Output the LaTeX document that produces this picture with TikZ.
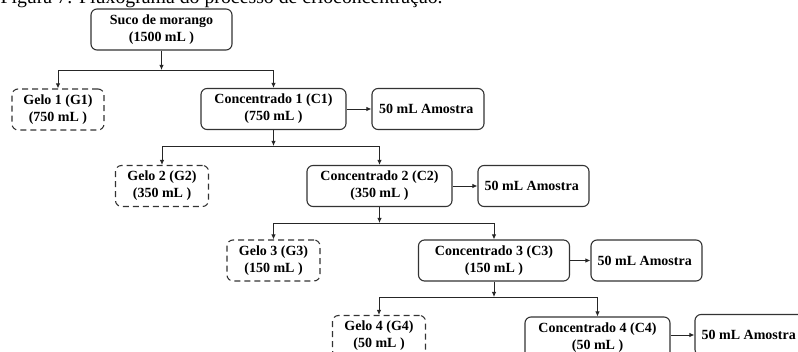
\documentclass[tikz,border=0pt]{standalone}
\usepackage{fontspec}
\setmainfont{Liberation Serif}
\usetikzlibrary{arrows.meta,positioning}

\begin{document}
\begin{tikzpicture}[x=1pt, y=-1pt,
    every node/.style={
        rectangle,
        rounded corners=6pt,
        draw=black!80,
        line width=1.1pt,
        align=center,
        inner sep=2pt,
        minimum height=41pt,
        font=\fontsize{14}{17}\selectfont\bfseries
    },
    gelo/.style={dash pattern=on 6pt off 4pt, minimum width=93pt},
    concentrado/.style={minimum width=145pt},
    amostra/.style={minimum width=111pt},
    seta/.style={->, draw=black!85, line width=0.9pt},
    >={Latex[length=5pt, width=4.5pt]}
]
    \useasboundingbox (0,0) rectangle (798,352);
    \clip (0,0) rectangle (798,352);

    \node (legenda) [draw=none, rounded corners=0pt, minimum height=0pt, inner sep=0pt,
        anchor=base west, font=\fontsize{19.8}{24}\selectfont, shift={(0,4)}]
    {
        Figura 7: Fluxograma do processo de crioconcentração.
    };

    \node (suco_de_morango) [minimum width=141pt, shift={(161.5, 29.5)}]
    {
        Suco de morango\\(1500 mL )
    };

    \node (gelo_1) [gelo, minimum width=92pt, shift={(58, 109.5)}]
    {
        Gelo 1 (G1)\\(750 mL )
    };
    \node (concentrado_1) [concentrado, shift={(273.5, 109)}]
    {
        Concentrado 1 (C1)\\(750 mL )
    };
    \node (amostra_1) [amostra, minimum width=112pt, shift={(428, 109)}]
    {
        50 mL Amostra
    };

    \node (gelo_2) [gelo, shift={(162, 186)}]
    {
        Gelo 2 (G2)\\(350 mL )
    };
    \node (concentrado_2) [concentrado, shift={(379.5, 186)}]
    {
        Concentrado 2 (C2)\\(350 mL )
    };
    \node (amostra_2) [amostra, shift={(533.5, 186)}]
    {
        50 mL Amostra
    };

    \node (gelo_3) [gelo, shift={(273.5, 260.5)}]
    {
        Gelo 3 (G3)\\(150 mL )
    };
    \node (concentrado_3) [concentrado, minimum width=151pt, shift={(494, 260.5)}]
    {
        Concentrado 3 (C3)\\(150 mL )
    };
    \node (amostra_3) [amostra, shift={(646.5, 260.5)}]
    {
        50 mL Amostra
    };

    \node (gelo_4) [gelo, shift={(379, 336)}]
    {
        Gelo 4 (G4)\\(50 mL )
    };
    \node (concentrado_4) [concentrado, shift={(597.5, 337.5)}]
    {
        Concentrado 4 (C4)\\(50 mL )
    };
    \node (amostra_4) [amostra, shift={(750.5, 335)}]
    {
        50 mL Amostra
    };

    \coordinate (divisao_1) at (161.5, 70);
    \coordinate (divisao_2) at (273.5, 146);
    \coordinate (divisao_3) at (379.5, 223);
    \coordinate (divisao_4) at (494, 297);

    \draw[seta] (suco_de_morango) to (divisao_1);
    \draw[seta] (divisao_1) -| (gelo_1);
    \draw[seta] (divisao_1) -| (concentrado_1);
    \draw[seta] (concentrado_1) to (amostra_1);

    \draw[seta] (concentrado_1) to (divisao_2);
    \draw[seta] (divisao_2) -| (gelo_2);
    \draw[seta] (divisao_2) -| (concentrado_2);
    \draw[seta] (concentrado_2) to (amostra_2);

    \draw[seta] (concentrado_2) to (divisao_3);
    \draw[seta] (divisao_3) -| (gelo_3);
    \draw[seta] (divisao_3) -| (concentrado_3);
    \draw[seta] (concentrado_3) to (amostra_3);

    \draw[seta] (concentrado_3) to (divisao_4);
    \draw[seta] (divisao_4) -| (gelo_4);
    \draw[seta] (divisao_4) -| (concentrado_4);
    \draw[seta] (concentrado_4.east |- amostra_4) to (amostra_4);
\end{tikzpicture}
\end{document}
